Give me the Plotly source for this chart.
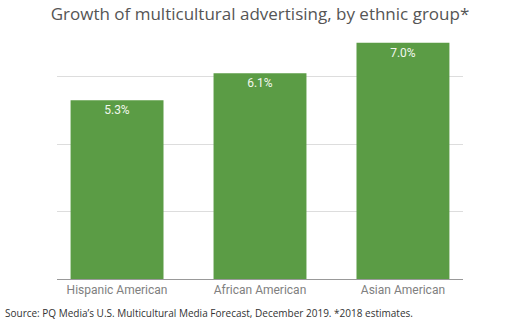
import plotly.graph_objects as go

# Growth of multicultural advertising by ethnic group (2018 estimates)
groups = ["Hispanic American", "African American", "Asian American"]
growth_pct = [5.3, 6.1, 7.0]
bar_labels = [f"{v:.1f}%" for v in growth_pct]

W, H = 520, 325
left, right, top, bottom = 57, 57, 36, 46

fig = go.Figure(
    go.Bar(
        x=groups,
        y=growth_pct,
        text=bar_labels,
        textposition="inside",
        insidetextanchor="end",
        textangle=0,
        textfont=dict(family="Roboto", size=12, color="#f2f7ee"),
        marker=dict(color="#5b9c45", line=dict(width=0)),
        width=0.65,
        hoverinfo="skip",
    )
)

fig.update_layout(
    width=W,
    height=H,
    margin=dict(l=left, r=right, t=top, b=bottom, pad=0),
    paper_bgcolor="white",
    plot_bgcolor="white",
    showlegend=False,
    title=dict(
        text="Growth of multicultural advertising, by ethnic group*",
        x=0.5,
        xanchor="center",
        xref="paper",
        y=1 - 14 / H,
        yanchor="middle",
        yref="container",
        font=dict(family="Open Sans", size=17, color="#555555"),
    ),
    xaxis=dict(
        type="category",
        range=[-0.42, 2.42],
        showgrid=False,
        showline=True,
        linecolor="#999999",
        linewidth=1,
        ticks="",
        tickfont=dict(family="Roboto", size=12, color="#808080"),
        fixedrange=True,
    ),
    yaxis=dict(
        range=[0, 7.2],
        tickvals=[2, 4, 6],
        showticklabels=False,
        showgrid=True,
        gridcolor="#dddddd",
        gridwidth=1,
        zeroline=False,
        showline=False,
        ticks="",
        fixedrange=True,
    ),
    annotations=[
        dict(
            text="Source: PQ Media’s U.S. Multicultural Media Forecast, December 2019. *2018 estimates.",
            xref="paper",
            yref="paper",
            x=(3 - left) / (W - left - right),
            y=-(313 - (H - bottom)) / (H - top - bottom),
            xanchor="left",
            yanchor="middle",
            showarrow=False,
            font=dict(family="Open Sans", size=10, color="#333333"),
        )
    ],
)

fig.write_html("out.html")
